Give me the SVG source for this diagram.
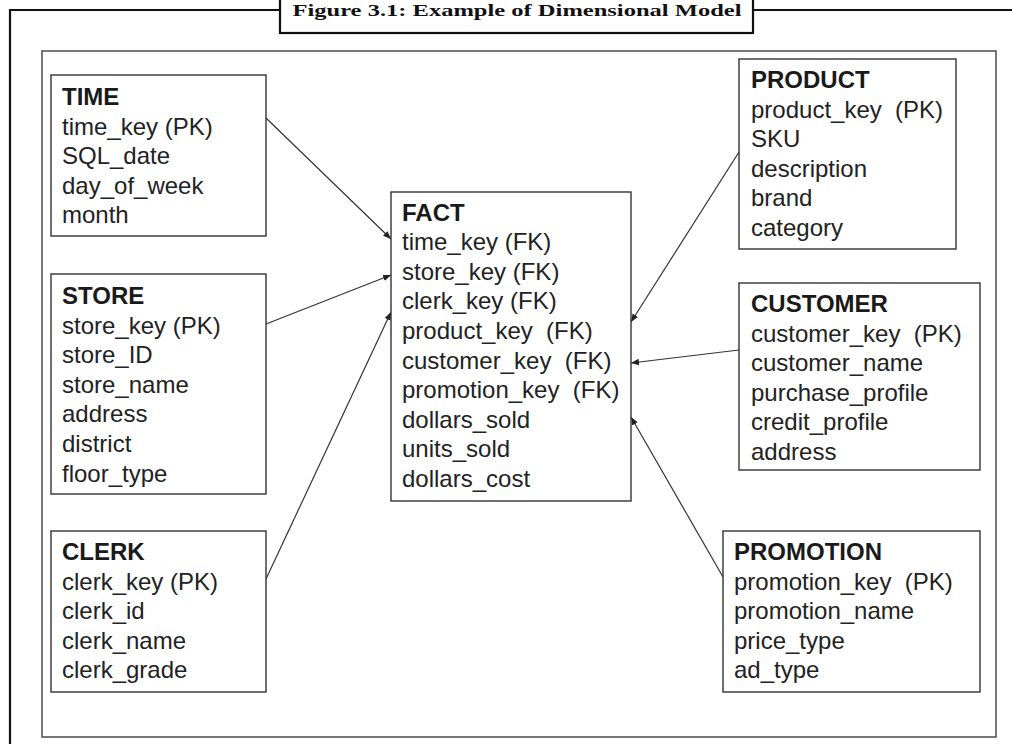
<svg xmlns="http://www.w3.org/2000/svg" width="1012" height="744" viewBox="0 0 1012 744">
<style>
  .frame { fill: none; stroke: #111; stroke-width: 2.2; }
  .inner { fill: none; stroke: #555; stroke-width: 1.6; }
  .box { fill: #fff; stroke: #333; stroke-width: 1.4; }
  .hdr { font-family: "Liberation Sans", Arial, sans-serif; font-size: 24px; font-weight: bold; fill: #1a1a1a; }
  .fld { font-family: "Liberation Sans", Arial, sans-serif; font-size: 24px; fill: #222; white-space: pre; }
  .title { font-family: "Liberation Serif", "Times New Roman", serif; font-size: 17px; font-weight: bold; fill: #111; }
  .conn { stroke: #333; stroke-width: 1.2; fill: none; marker-end: url(#arr); }
</style>
<defs>
  <marker id="arr" viewBox="0 0 10 10" refX="10" refY="5" markerWidth="8" markerHeight="8" markerUnits="userSpaceOnUse" orient="auto">
    <path d="M0,1 L10,5 L0,9 Z" fill="#222"/>
  </marker>
</defs>
<rect width="1012" height="744" fill="#fff"/>

<g id="frame">
  <path class="frame" d="M10,744 L10,10 L280,10 M753,10 L1012,10"/>
  <rect class="frame" x="280" y="-10" width="473" height="43"/>
  <text class="title" x="517" y="16" text-anchor="middle" textLength="449" lengthAdjust="spacingAndGlyphs">Figure 3.1: Example of Dimensional Model</text>
  <rect class="inner" x="42" y="51" width="954" height="686"/>
</g>

<g id="connectors">
  <line class="conn" x1="266" y1="118" x2="391" y2="239"/>
  <line class="conn" x1="266" y1="324" x2="391" y2="275"/>
  <line class="conn" x1="266" y1="579" x2="391" y2="312"/>
  <line class="conn" x1="739" y1="152" x2="631" y2="322"/>
  <line class="conn" x1="739" y1="350" x2="631" y2="363"/>
  <line class="conn" x1="723" y1="577" x2="631" y2="417"/>
</g>

<g id="time">
  <rect class="box" x="51" y="75" width="215" height="161"/>
  <text class="hdr" x="62" y="105">TIME</text>
  <text class="fld" x="62" y="134.6">time_key (PK)</text>
  <text class="fld" x="62" y="164.2">SQL_date</text>
  <text class="fld" x="62" y="193.8">day_of_week</text>
  <text class="fld" x="62" y="223.4">month</text>
</g>

<g id="store">
  <rect class="box" x="51" y="274" width="215" height="220"/>
  <text class="hdr" x="62" y="304">STORE</text>
  <text class="fld" x="62" y="333.6">store_key (PK)</text>
  <text class="fld" x="62" y="363.2">store_ID</text>
  <text class="fld" x="62" y="392.8">store_name</text>
  <text class="fld" x="62" y="422.4">address</text>
  <text class="fld" x="62" y="452">district</text>
  <text class="fld" x="62" y="481.6">floor_type</text>
</g>

<g id="clerk">
  <rect class="box" x="51" y="531" width="215" height="161"/>
  <text class="hdr" x="62" y="560">CLERK</text>
  <text class="fld" x="62" y="589.6">clerk_key (PK)</text>
  <text class="fld" x="62" y="619.2">clerk_id</text>
  <text class="fld" x="62" y="648.8">clerk_name</text>
  <text class="fld" x="62" y="678.4">clerk_grade</text>
</g>

<g id="fact">
  <rect class="box" x="391" y="192" width="240" height="309"/>
  <text class="hdr" x="402" y="220.5">FACT</text>
  <text class="fld" x="402" y="250.1">time_key (FK)</text>
  <text class="fld" x="402" y="279.7">store_key (FK)</text>
  <text class="fld" x="402" y="309.3">clerk_key (FK)</text>
  <text class="fld" x="402" y="338.9">product_key  (FK)</text>
  <text class="fld" x="402" y="368.5">customer_key  (FK)</text>
  <text class="fld" x="402" y="398.1">promotion_key  (FK)</text>
  <text class="fld" x="402" y="427.7">dollars_sold</text>
  <text class="fld" x="402" y="457.3">units_sold</text>
  <text class="fld" x="402" y="486.9">dollars_cost</text>
</g>

<g id="product">
  <rect class="box" x="739" y="59" width="217" height="190"/>
  <text class="hdr" x="751" y="88">PRODUCT</text>
  <text class="fld" x="751" y="117.6">product_key  (PK)</text>
  <text class="fld" x="751" y="147.2">SKU</text>
  <text class="fld" x="751" y="176.8">description</text>
  <text class="fld" x="751" y="206.4">brand</text>
  <text class="fld" x="751" y="236">category</text>
</g>

<g id="customer">
  <rect class="box" x="739" y="283" width="241" height="187"/>
  <text class="hdr" x="751" y="312">CUSTOMER</text>
  <text class="fld" x="751" y="341.6">customer_key  (PK)</text>
  <text class="fld" x="751" y="371.2">customer_name</text>
  <text class="fld" x="751" y="400.8">purchase_profile</text>
  <text class="fld" x="751" y="430.4">credit_profile</text>
  <text class="fld" x="751" y="460">address</text>
</g>

<g id="promotion">
  <rect class="box" x="723" y="531" width="257" height="161"/>
  <text class="hdr" x="734" y="560">PROMOTION</text>
  <text class="fld" x="734" y="589.6">promotion_key  (PK)</text>
  <text class="fld" x="734" y="619.2">promotion_name</text>
  <text class="fld" x="734" y="648.8">price_type</text>
  <text class="fld" x="734" y="678.4">ad_type</text>
</g>
</svg>
